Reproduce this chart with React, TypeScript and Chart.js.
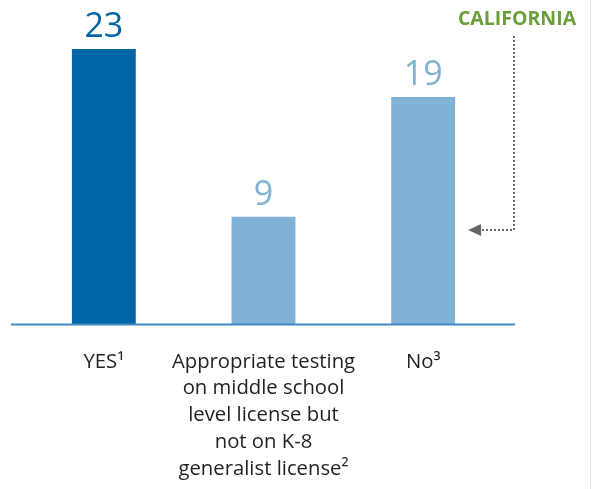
import React, { useEffect, useRef } from "react";
import { Chart, registerables } from "chart.js";

Chart.register(...registerables);

const categories: string[][] = [
  ["YES¹"],
  ["Appropriate testing", "on middle school", "level license but", "not on K-8", "generalist license²"],
  ["No³"],
];
const values: number[] = [23, 9, 19];
const barColors: string[] = ["#0066a5", "#7fb2d5", "#7fb2d5"];
const annotationText = "CALIFORNIA";
const annotationIndex = 2;

const FONT = "'Open Sans', sans-serif";

const overlayPlugin = {
  id: "overlay",
  afterDatasetsDraw(chart: any) {
    const ctx = chart.ctx;
    const meta = chart.getDatasetMeta(0);
    const yScale = chart.scales.y;
    const base = yScale.getPixelForValue(0);
    ctx.save();
    // baseline axis line
    ctx.strokeStyle = "#3d8bc2";
    ctx.lineWidth = 2;
    ctx.beginPath();
    ctx.moveTo(11, base);
    ctx.lineTo(515, base);
    ctx.stroke();
    // value labels
    ctx.font = `34px ${FONT}`;
    ctx.textAlign = "center";
    ctx.textBaseline = "alphabetic";
    meta.data.forEach((bar: any, i: number) => {
      ctx.fillStyle = barColors[i];
      ctx.fillText(String(values[i]), bar.x, bar.y - 12);
    });
    // annotation
    const target = meta.data[annotationIndex];
    const ax = 514;
    const ay = 230;
    ctx.font = `bold 19.5px ${FONT}`;
    ctx.fillStyle = "#6a9f3a";
    ctx.textAlign = "center";
    ctx.fillText(annotationText, 517, 25);
    ctx.strokeStyle = "#666666";
    ctx.lineWidth = 2;
    ctx.setLineDash([2, 2]);
    ctx.beginPath();
    ctx.moveTo(ax, 36);
    ctx.lineTo(ax, ay);
    ctx.lineTo(target.x + target.width / 2 + 26, ay);
    ctx.stroke();
    ctx.setLineDash([]);
    const tip = target.x + target.width / 2 + 13;
    ctx.fillStyle = "#666666";
    ctx.beginPath();
    ctx.moveTo(tip, ay);
    ctx.lineTo(tip + 13, ay - 6);
    ctx.lineTo(tip + 13, ay + 6);
    ctx.closePath();
    ctx.fill();
    // right edge line
    ctx.strokeStyle = "#d8e0e7";
    ctx.lineWidth = 1;
    ctx.beginPath();
    ctx.moveTo(590.5, 0);
    ctx.lineTo(590.5, 489);
    ctx.stroke();
    ctx.restore();
  },
};

export default function App() {
  const ref = useRef<HTMLCanvasElement | null>(null);
  useEffect(() => {
    document.body.style.margin = "0";
    const chart = new Chart(ref.current as HTMLCanvasElement, {
      type: "bar",
      data: {
        labels: categories,
        datasets: [
          {
            data: values,
            backgroundColor: barColors,
            borderWidth: 0,
            barPercentage: 0.4,
            categoryPercentage: 1,
          },
        ],
      },
      options: {
        animation: false,
        responsive: false,
        maintainAspectRatio: false,
        layout: { padding: { left: 24, right: 89, top: 25, bottom: -17.5 } },
        plugins: { legend: { display: false }, tooltip: { enabled: false } },
        scales: {
          x: {
            grid: { display: false, drawTicks: false },
            border: { display: false },
            ticks: {
              color: "#231f20",
              padding: 24,
              maxRotation: 0,
              autoSkip: false,
              font: { family: FONT, size: 20.3, lineHeight: 1.32 },
            },
          },
          y: {
            display: false,
            min: 0,
            max: 25,
          },
        },
      },
      plugins: [overlayPlugin],
    });
    return () => chart.destroy();
  }, []);
  return <canvas ref={ref} width={592} height={489} style={{ display: "block" }} />;
}
